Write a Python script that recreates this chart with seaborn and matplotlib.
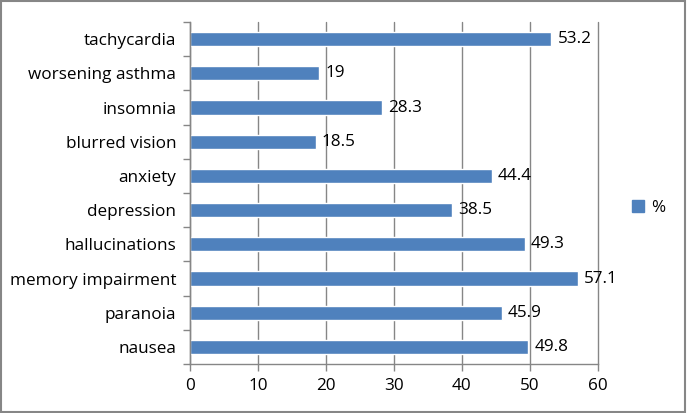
import matplotlib
matplotlib.use('Agg')
import matplotlib.pyplot as plt
import seaborn as sns
import pandas as pd
from matplotlib.patches import Patch, Rectangle

# data (top to bottom)
symptoms = ['tachycardia', 'worsening asthma', 'insomnia', 'blurred vision', 'anxiety',
            'depression', 'hallucinations', 'memory impairment', 'paranoia', 'nausea']
percent = [53.2, 19, 28.3, 18.5, 44.4, 38.5, 49.3, 57.1, 45.9, 49.8]
value_labels = ['53.2', '19', '28.3', '18.5', '44.4', '38.5', '49.3', '57.1', '45.9', '49.8']

df = pd.DataFrame({'symptom': symptoms, 'pct': percent})

sns.set_style('white')
plt.rcParams['font.family'] = ['Open Sans', 'DejaVu Sans']
plt.rcParams['text.color'] = 'black'
plt.rcParams['xtick.labelcolor'] = 'black'
plt.rcParams['ytick.labelcolor'] = 'black'

bar_color = '#4F81BD'
grey = '#868686'
fs = 12.3

fig = plt.figure(figsize=(6.87, 4.13), dpi=100)
ax = fig.add_axes([0.2766, 0.1186, 0.870 - 0.2766, 0.9467 - 0.1186])

sns.barplot(data=df, x='pct', y='symptom', color=bar_color, width=0.42,
            saturation=1, ax=ax, order=symptoms)

ax.set_xlim(0, 60)
ax.set_ylim(len(symptoms) - 0.5, -0.5)
ax.set_xticks(range(0, 61, 10))
ax.set_xlabel('')
ax.set_ylabel('')
ax.xaxis.grid(True, color=grey, linewidth=1)
for gl in ax.get_xgridlines():
    gl.set_clip_on(False)
ax.set_axisbelow(True)

# category ticks at the boundaries, like the spreadsheet chart
ax.set_yticks([i - 0.5 for i in range(len(symptoms) + 1)], minor=False)
ax.set_yticklabels([])
ax.set_yticks(range(len(symptoms)), minor=True)
ax.set_yticklabels(symptoms, minor=True)
ax.tick_params(axis='y', which='major', length=5, width=1, color=grey, left=True)
ax.tick_params(axis='y', which='minor', length=0, pad=10, labelsize=fs)
ax.tick_params(axis='x', length=5, width=1, color=grey, bottom=True, labelsize=fs, pad=5)

for side in ['top', 'right']:
    ax.spines[side].set_visible(False)
for side in ['left', 'bottom']:
    ax.spines[side].set_color(grey)
    ax.spines[side].set_linewidth(1)

for i, (v, lab) in enumerate(zip(percent, value_labels)):
    ax.text(v + 0.9, i, lab, va='center', ha='left', fontsize=fs)

fig.legend(handles=[Patch(color=bar_color, label='%')], loc='center left',
           bbox_to_anchor=(0.898, 0.497), frameon=False, fontsize=fs,
           handlelength=0.7, handleheight=0.7, handletextpad=0.4)

# outer chart border
fig.patches.append(Rectangle((0.002, 0.003), 0.995, 0.994, transform=fig.transFigure,
                             fill=False, edgecolor=grey, linewidth=1.5))

fig.savefig('out.png', dpi=100)
